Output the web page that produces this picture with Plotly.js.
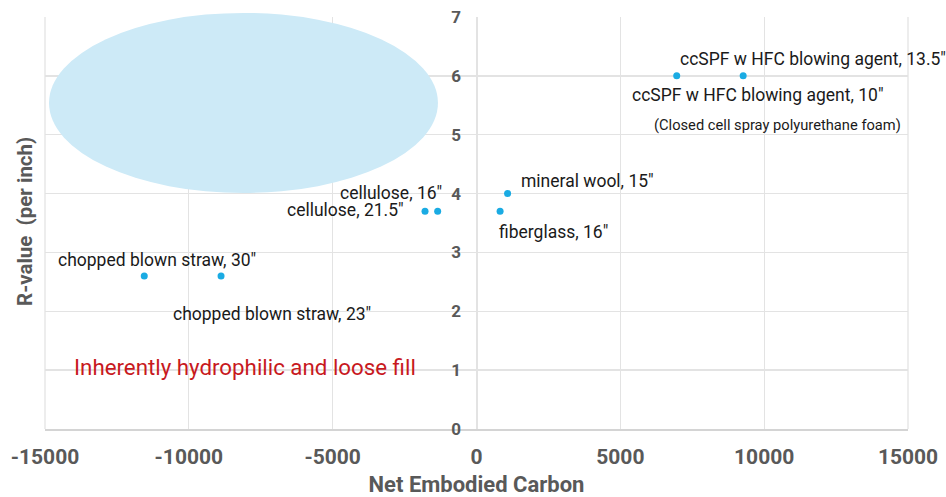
<!DOCTYPE html>
<html>
<head>
<meta charset="utf-8">
<script src="https://cdn.plot.ly/plotly-3.0.1.min.js"></script>
<style>html,body{margin:0;padding:0;background:#fff}#chart{width:946px;height:497px}</style>
</head>
<body>
<div id="chart"></div>
<script>
// Data
const materials = ["chopped blown straw, 30\"", "chopped blown straw, 23\"", "cellulose, 21.5\"", "cellulose, 16\"", "fiberglass, 16\"", "mineral wool, 15\"", "ccSPF w HFC blowing agent, 10\"", "ccSPF w HFC blowing agent, 13.5\""];
const embodiedCarbon = [-11550, -8880, -1790, -1350, 820, 1080, 6960, 9270];
const rValue = [2.6, 2.6, 3.7, 3.7, 3.7, 4.0, 6.0, 6.0];
const xTicks = [-15000, -10000, -5000, 0, 5000, 10000, 15000];
const yTicks = [0, 1, 2, 3, 4, 5, 6, 7];

// label placement (pixel offsets from each point), styling only
const labelStyle = [
  {xanchor: "center", xshift: 13, yshift: 16},
  {xanchor: "center", xshift: 51, yshift: -38},
  {xanchor: "right", xshift: -19, yshift: 1},
  {xanchor: "right", xshift: 6, yshift: 18},
  {xanchor: "left", xshift: -3, yshift: -21},
  {xanchor: "left", xshift: 11, yshift: 13},
  {xanchor: "left", xshift: -47, yshift: -19},
  {xanchor: "left", xshift: -65, yshift: 17}
];

const labelFont = {family: "Roboto, sans-serif", size: 17.5, color: "#1a1a1a"};
const annotations = materials.map((m, i) => Object.assign({
  x: embodiedCarbon[i], y: rValue[i], xref: "x", yref: "y",
  text: m, showarrow: false, font: labelFont, yanchor: "middle"
}, labelStyle[i]));

annotations.push({
  x: 10460, y: 5.16, xref: "x", yref: "y", showarrow: false,
  text: "(Closed cell spray polyurethane foam)",
  font: {family: "Roboto, sans-serif", size: 14.7, color: "#1a1a1a"}
});
annotations.push({
  x: -8050, y: 1.05, xref: "x", yref: "y", showarrow: false,
  text: "Inherently hydrophilic and loose fill",
  font: {family: "Roboto, sans-serif", size: 22.3, color: "#c8191e"}
});
annotations.push({
  x: 0, y: 0.5, xref: "paper", yref: "paper", xanchor: "center", yanchor: "middle",
  xshift: -20, yshift: 1, showarrow: false, textangle: -90,
  text: "<b>R-value  (per inch)</b>",
  font: {family: "Roboto, sans-serif", size: 20.5, color: "#595959"}
});

const trace = {
  type: "scatter", mode: "markers",
  x: embodiedCarbon, y: rValue,
  marker: {color: "#1aabe3", size: 7},
  hoverinfo: "text", text: materials, cliponaxis: false
};

const layout = {
  width: 946, height: 497,
  margin: {l: 45, r: 38, t: 17, b: 68},
  paper_bgcolor: "#fff", plot_bgcolor: "#fff",
  showlegend: false,
  font: {family: "Roboto, sans-serif"},
  xaxis: {
    range: [-15000, 15000], tickvals: xTicks, ticktext: xTicks.map(String),
    showgrid: true, gridcolor: "#e3e3e3", gridwidth: 1.3,
    zeroline: false, showline: true, linecolor: "#d4d4d4", linewidth: 1.5,
    ticks: "", ticklabelstandoff: 8,
    tickfont: {family: "Roboto, sans-serif", size: 21, color: "#595959", weight: "bold"},
    title: {text: "<b>Net Embodied Carbon</b>", standoff: 11,
            font: {family: "Roboto, sans-serif", size: 22, color: "#595959"}}
  },
  yaxis: {
    range: [0, 7], tickvals: yTicks, ticktext: yTicks.map(String),
    anchor: "free", position: 0.5, side: "left",
    showgrid: true, gridcolor: "#e3e3e3", gridwidth: 1.3,
    zeroline: false, showline: true, linecolor: "#e3e3e3", linewidth: 1.3,
    ticks: "", ticklabelstandoff: 12,
    tickfont: {family: "Roboto, sans-serif", size: 17, color: "#595959", weight: "bold"}
  },
  shapes: [
    {type: "line", xref: "paper", yref: "paper", x0: 0, x1: 0, y0: 0, y1: 1, line: {color: "#e3e3e3", width: 1.3}},
    {type: "line", xref: "paper", yref: "paper", x0: 1, x1: 1, y0: 0, y1: 1, line: {color: "#e3e3e3", width: 1.3}},
    {type: "circle", xref: "x", yref: "paper", x0: -14860, x1: -1340, y0: 4.01 / 7, y1: 7.07 / 7,
     fillcolor: "#cdeaf7", line: {width: 0}, layer: "above"}
  ],
  annotations: annotations
};

Plotly.newPlot("chart", [trace], layout, {displayModeBar: false, staticPlot: true});
</script>
</body>
</html>
